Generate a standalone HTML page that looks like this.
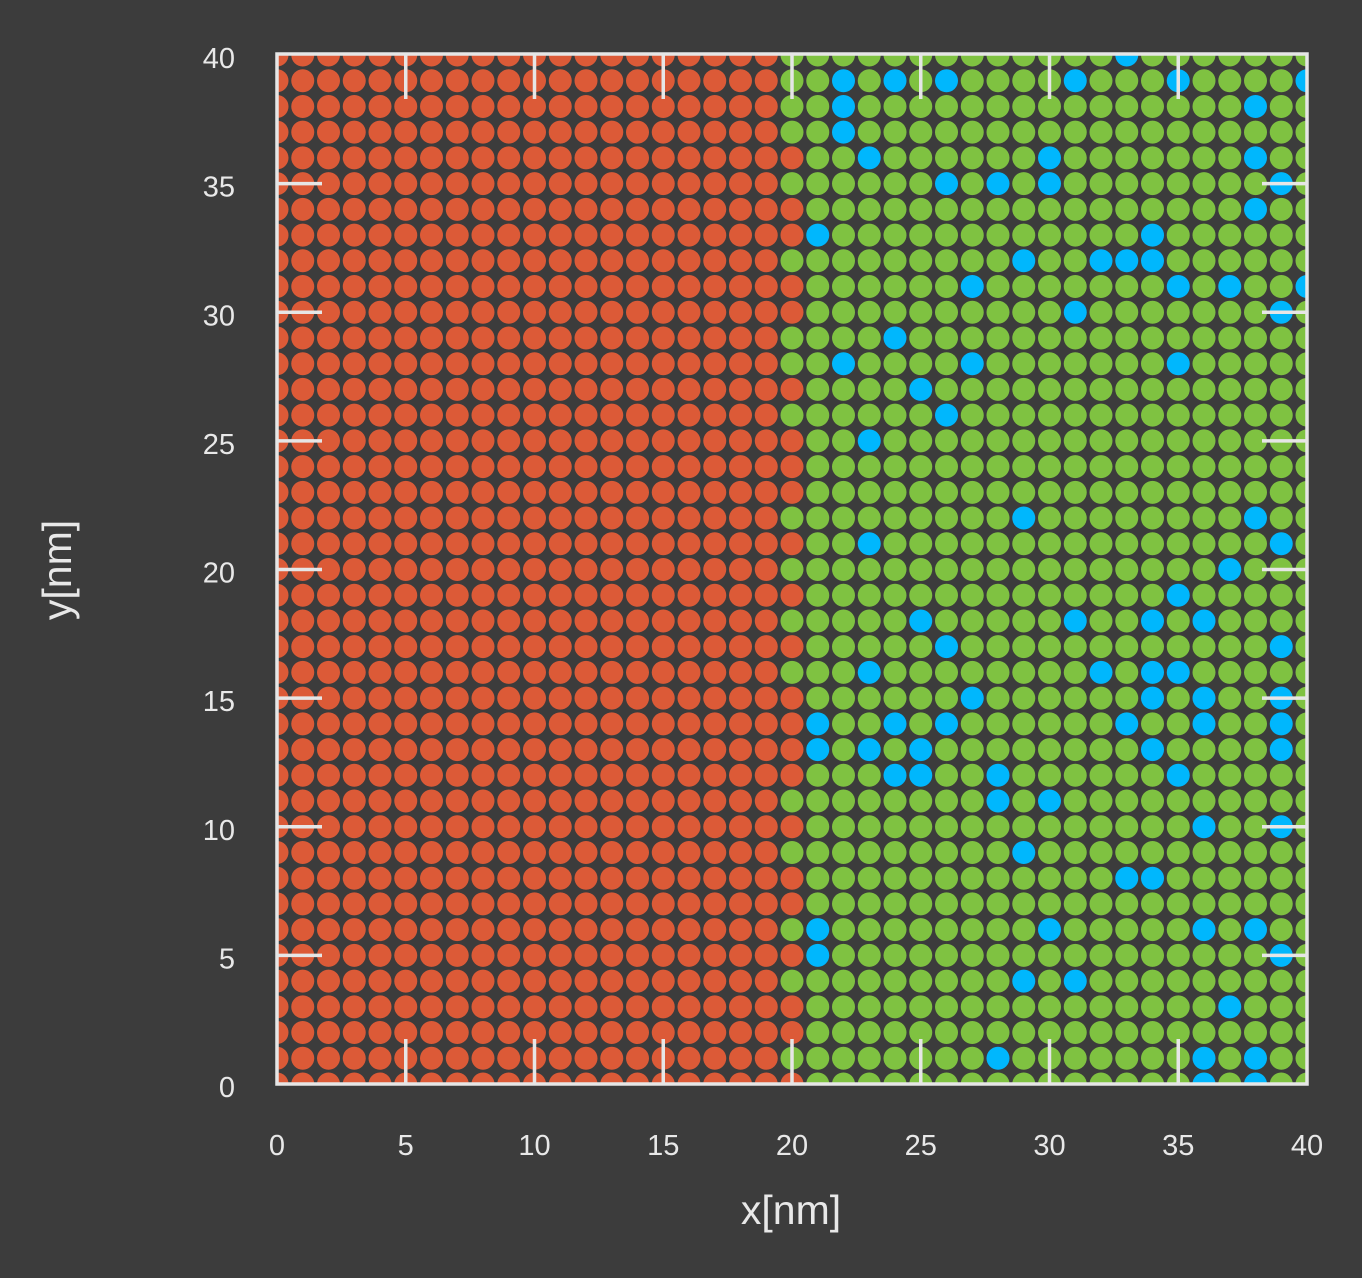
<!DOCTYPE html>
<html><head><meta charset="utf-8"><style>
html,body{margin:0;padding:0;background:#3c3c3c;}
svg{display:block;}
text{font-family:"Liberation Sans",sans-serif;fill:#e8e8e8;}
</style></head><body>
<svg id="s" width="1362" height="1278" viewBox="0 0 1362 1278" xmlns="http://www.w3.org/2000/svg">
<rect width="1362" height="1278" fill="#3c3c3c"/>
<defs><clipPath id="c"><rect x="277" y="54" width="1030" height="1030"/></clipPath></defs>
<g id="dots" clip-path="url(#c)"></g>
<g id="ax" stroke="#e6e6e6" stroke-width="3.5" fill="none">
<rect x="277" y="54" width="1030" height="1030"/>
</g>
<g id="lab" font-size="29"></g>
<text x="791" y="1224" font-size="41" text-anchor="middle">x[nm]</text>
<text x="0" y="0" font-size="41" text-anchor="middle" transform="translate(71,570) rotate(-90)">y[nm]</text>
</svg>
<script>
var X=function(v){return 277+v*25.75;}, Y=function(v){return 1084-v*25.725;};
var red20=[36,34,33,31,30,27,25,24,23,21,19,17,15,14,13,12,10,8,7,5,3,2,0];
var blue={40:[33],39:[22,24,26,31,35,40],38:[22,38],37:[22],36:[23,30,38],35:[26,28,30,39],34:[38],33:[21,34],32:[29,32,33,34],31:[27,35,37,40],30:[31,39],29:[24],28:[22,27,35],27:[25],26:[26],25:[23],22:[29,38],21:[23,39],20:[37],19:[35],18:[25,31,34,36],17:[26,39],16:[23,32,34,35],15:[27,34,36,39],14:[21,24,26,33,36,39],13:[21,23,25,34,39],12:[24,25,28,35],11:[28,30],10:[36,39],9:[29],8:[33,34],6:[21,30,36,38],5:[21,39],4:[29,31],3:[37],1:[28,36,38],0:[36,38]};
var g=document.getElementById('dots'),h='';
for(var y=0;y<=40;y++)for(var x=0;x<=40;x++){
 var c;
 if(x<20)c='#dc5a37';
 else if(x==20)c=red20.indexOf(y)>=0?'#dc5a37':'#7fc241';
 else c=(blue[y]&&blue[y].indexOf(x)>=0)?'#00b7fd':'#7fc241';
 h+='<circle cx="'+X(x).toFixed(2)+'" cy="'+Y(y).toFixed(2)+'" r="11.5" fill="'+c+'"/>';
}
g.innerHTML=h;
var a=document.getElementById('ax'),t='';
for(var i=5;i<40;i+=5){
 var px=X(i),py=Y(i);
 t+='<line x1="'+px+'" y1="1084" x2="'+px+'" y2="1039"/><line x1="'+px+'" y1="54" x2="'+px+'" y2="99"/>';
 t+='<line x1="277" y1="'+py+'" x2="322" y2="'+py+'"/><line x1="1307" y1="'+py+'" x2="1262" y2="'+py+'"/>';
}
a.innerHTML+=t;
var l=document.getElementById('lab'),s='';
for(var i=0;i<=40;i+=5){
 s+='<text x="'+X(i)+'" y="1155" text-anchor="middle">'+i+'</text>';
 s+='<text x="235" y="'+(Y(i)+13)+'" text-anchor="end">'+i+'</text>';
}
l.innerHTML=s;
</script>
</body></html>
